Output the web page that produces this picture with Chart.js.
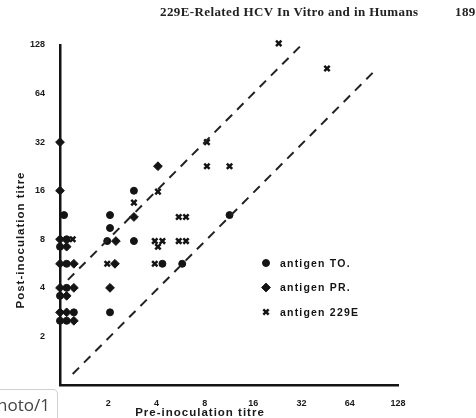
<!DOCTYPE html>
<html>
<head>
<meta charset="utf-8">
<script src="https://cdn.jsdelivr.net/npm/chart.js@4.4.1/dist/chart.umd.min.js"></script>
<style>
  html, body { margin: 0; padding: 0; background: #fff; }
  #wrap { position: relative; width: 476px; height: 418px; overflow: hidden; }
  #wrap canvas { position: absolute; left: 0; top: 0; }
  .hdr { position: absolute; top: 4px; font: bold 13px "Liberation Serif", serif; letter-spacing: 0.4px; color: #222; white-space: nowrap; }
  .ytitle { position: absolute; left: -60px; top: 234px; width: 160px; line-height: 15px; text-align: center;
            transform: rotate(-90deg); font: bold 11.5px "Liberation Sans", Arial, sans-serif; letter-spacing: 1px; color: #1a1a1a; }
  .xtitle { position: absolute; left: 115px; top: 406px; width: 170px; text-align: center;
            font: bold 11.5px "Liberation Sans", Arial, sans-serif; letter-spacing: 1px; color: #1a1a1a; white-space: nowrap; }
  .tag { position: absolute; left: 0; top: 389px; width: 58px; height: 34px; box-sizing: border-box;
         border: 1px solid #cfcfcf; border-left: none; border-radius: 0 5px 0 0; background: #fff;
         font: 17px "Open Sans", sans-serif; color: #444; line-height: 30px; text-indent: -3px; overflow: hidden; white-space: nowrap; }
</style>
</head>
<body>
<div id="wrap">
  <canvas id="titreChart" width="476" height="418"></canvas>
  <div class="hdr" style="left:160px">229E-Related HCV In Vitro and in Humans</div>
  <div class="hdr" style="left:455px">189</div>
  <div class="ytitle">Post-inoculation titre</div>
  <div class="xtitle">Pre-inoculation titre</div>
  <div class="tag">hoto/1</div>
</div>
<script>
// titres (pre, post); points sitting on the axis are the "<2" sera, nudged apart
const tickValues = [2, 4, 8, 16, 32, 64, 128];

const antigenTO = [
    {x: 1.06, y: 11.3}, {x: 1.1, y: 8}, {x: 1, y: 7.2}, {x: 1.1, y: 5.64},
    {x: 1.1, y: 4}, {x: 1, y: 3.57}, {x: 1.22, y: 2.82}, {x: 1, y: 2.5}, {x: 1.1, y: 2.5},
    {x: 2.05, y: 11.3}, {x: 2.05, y: 9.4}, {x: 1.97, y: 7.8}, {x: 2.05, y: 2.82},
    {x: 2.89, y: 16}, {x: 2.89, y: 7.8}, {x: 4.35, y: 5.64}, {x: 5.78, y: 5.64},
    {x: 11.4, y: 11.3}
];
const antigenPR = [
    {x: 1, y: 32}, {x: 1, y: 16}, {x: 1, y: 8}, {x: 1.1, y: 7.2},
    {x: 1, y: 5.64}, {x: 1.22, y: 5.64}, {x: 1, y: 4}, {x: 1.22, y: 4},
    {x: 1.1, y: 3.57}, {x: 1, y: 2.82}, {x: 1.1, y: 2.82}, {x: 1.22, y: 2.5},
    {x: 2.23, y: 7.8}, {x: 2.2, y: 5.64}, {x: 2.05, y: 4}, {x: 2.89, y: 11},
    {x: 4.08, y: 22.7}
];
const antigen229E = [
    {x: 1.2, y: 8}, {x: 1.97, y: 5.64}, {x: 2.89, y: 13.5}, {x: 4.08, y: 15.8},
    {x: 3.9, y: 7.8}, {x: 4.35, y: 7.8}, {x: 4.08, y: 7.19}, {x: 3.9, y: 5.64},
    {x: 5.5, y: 11}, {x: 6.1, y: 11}, {x: 5.5, y: 7.8}, {x: 6.1, y: 7.8},
    {x: 8.24, y: 32}, {x: 8.24, y: 22.7}, {x: 11.4, y: 22.7},
    {x: 23.1, y: 131}, {x: 46.2, y: 91.6}
];
// the two dashed guide lines
const upperLine = [{x: 1.12, y: 4.48}, {x: 32, y: 128}];
const lowerLine = [{x: 1.2, y: 1.17}, {x: 90, y: 87}];

const legendItems = [
    {label: "antigen TO.", style: "circle", radius: 3.5},
    {label: "antigen PR.", style: "rectRot", radius: 4.4},
    {label: "antigen 229E", style: "crossRot", radius: 3.8}
];

const ink = "#141414";

function markerSet(data, style, radius, width) {
    return {
        data: data,
        pointStyle: style,
        pointRadius: radius,
        pointBorderWidth: width,
        pointBackgroundColor: ink,
        pointBorderColor: ink,
        showLine: false,
        clip: false
    };
}

function dashedSet(data) {
    return {
        data: data,
        showLine: true,
        borderColor: "#222",
        borderWidth: 2,
        borderDash: [9, 7],
        pointRadius: 0,
        clip: false
    };
}

// legend drawn inside the plot, like the figure
const innerLegend = {
    id: "innerLegend",
    afterDraw(chart) {
        const ctx = chart.ctx;
        ctx.save();
        ctx.fillStyle = ink;
        ctx.strokeStyle = ink;
        ctx.font = "bold 10.5px 'Liberation Sans', Arial, sans-serif";
        ctx.letterSpacing = "1.2px";
        ctx.textBaseline = "middle";
        legendItems.forEach((item, i) => {
            let y = 263 + i * 24.5;
            ctx.lineWidth = item.style === "crossRot" ? 2.5 : 1;
            Chart.helpers.drawPoint(ctx, {pointStyle: item.style, radius: item.radius, borderWidth: ctx.lineWidth}, 266, y);
            ctx.fillText(item.label, 280, y + 1);
        });
        ctx.restore();
    }
};

const tickFont = {family: "'Liberation Sans', Arial, sans-serif", size: 9, weight: "bold"};

function logAxis(extra) {
    return Object.assign({
        type: "logarithmic",
        min: 1,
        max: 128,
        grid: {display: false},
        border: {display: true, color: ink, width: 2.5},
        afterBuildTicks: scale => { scale.ticks = tickValues.map(v => ({value: v})); }
    }, extra);
}

var ctx = document.getElementById("titreChart").getContext("2d");
var titreChart = new Chart(ctx, {
    type: "scatter",
    data: {
        datasets: [
            dashedSet(upperLine),
            dashedSet(lowerLine),
            markerSet(antigenTO, "circle", 3.5, 1),
            markerSet(antigenPR, "rectRot", 4.4, 1),
            markerSet(antigen229E, "crossRot", 3.8, 2.5)
        ]
    },
    options: {
        responsive: false,
        animation: false,
        events: [],
        layout: {padding: {top: 45, right: 78, left: 0, bottom: 0}},
        plugins: {legend: {display: false}, tooltip: {enabled: false}},
        scales: {
            x: logAxis({
                afterFit: s => { s.height = 33; },
                ticks: {color: "#1a1a1a", font: tickFont, padding: 5, maxRotation: 0, callback: v => String(v)}
            }),
            y: logAxis({
                afterFit: s => { s.width = 60; },
                ticks: {color: "#1a1a1a", font: tickFont, padding: 7, callback: v => String(v)}
            })
        }
    },
    plugins: [innerLegend]
});
</script>
</body>
</html>
